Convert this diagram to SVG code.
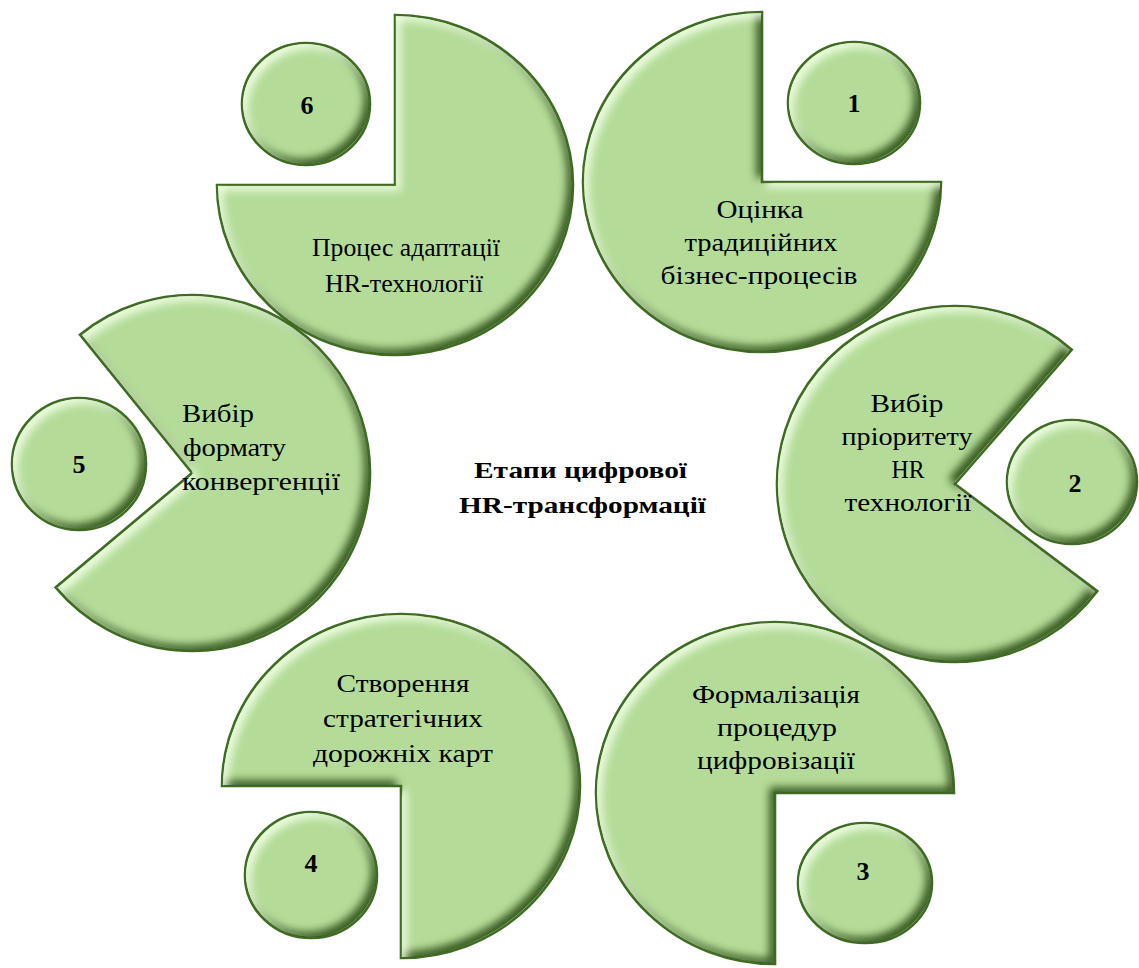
<svg xmlns="http://www.w3.org/2000/svg" width="1139" height="968" viewBox="0 0 1139 968">
  <defs>
    <!-- soft bevel: light rim on upper-left edges, dark rim on lower-right edges -->
    <filter id="bevel" x="-5%" y="-5%" width="110%" height="110%" color-interpolation-filters="sRGB">
      <feMorphology in="SourceAlpha" operator="erode" radius="1.5" result="inner"/>
      <feGaussianBlur in="inner" stdDeviation="4.5" result="blur"/>
      <feOffset in="blur" dx="5" dy="5" result="offDown"/>
      <feComposite in="inner" in2="offDown" operator="arithmetic" k2="1" k3="-1" result="hiMask"/>
      <feFlood flood-color="#f2ffe6" flood-opacity="0.9"/>
      <feComposite in2="hiMask" operator="in" result="hi"/>
      <feOffset in="blur" dx="-5" dy="-5" result="offUp"/>
      <feComposite in="inner" in2="offUp" operator="arithmetic" k2="1" k3="-1" result="shMask"/>
      <feFlood flood-color="#284a12" flood-opacity="0.9"/>
      <feComposite in2="shMask" operator="in" result="sh"/>
      <feMerge>
        <feMergeNode in="SourceGraphic"/>
        <feMergeNode in="sh"/>
        <feMergeNode in="hi"/>
      </feMerge>
    </filter>
  </defs>
  <style>
    .shape { fill: #b4dc98; stroke: #3f6b24; stroke-width: 2.6; filter: url(#bevel); }
    .lbl { font-family: "Liberation Serif", "DejaVu Serif", serif; font-size: 26px; fill: #000; text-anchor: middle; }
    .lbl-l { text-anchor: start; }
    .num { font-family: "Liberation Serif", "DejaVu Serif", serif; font-size: 26px; font-weight: bold; fill: #000; text-anchor: middle; }
    .title { font-family: "Liberation Serif", "DejaVu Serif", serif; font-size: 24px; font-weight: bold; fill: #000; text-anchor: start; }
  </style>
  <rect width="1139" height="968" fill="#ffffff"/>

  <g id="stage-1">
    <path class="shape" d="M 762,182 L 762,12 A 179 170 0 1 0 941,182 Z"/>
    <ellipse class="shape" cx="854" cy="103" rx="66" ry="61"/>
    <text class="num" x="854" y="112">1</text>
    <text class="lbl" x="760" y="218" textLength="87" lengthAdjust="spacingAndGlyphs">Оцінка</text>
    <text class="lbl" x="761" y="251" textLength="153" lengthAdjust="spacingAndGlyphs">традиційних</text>
    <text class="lbl" x="759" y="284" textLength="197" lengthAdjust="spacingAndGlyphs">бізнес-процесів</text>
  </g>

  <g id="stage-2">
    <path class="shape" d="M 955,484 L 1071.8,349.7 A 178 178 0 1 0 1097.2,591.1 Z"/>
    <ellipse class="shape" cx="1072" cy="482" rx="65" ry="62"/>
    <text class="num" x="1075" y="492">2</text>
    <text class="lbl" x="907" y="412" textLength="73" lengthAdjust="spacingAndGlyphs">Вибір</text>
    <text class="lbl" x="907" y="445" textLength="131" lengthAdjust="spacingAndGlyphs">пріоритету</text>
    <text class="lbl" x="908" y="478" textLength="33" lengthAdjust="spacingAndGlyphs">HR</text>
    <text class="lbl" x="908" y="511" textLength="127" lengthAdjust="spacingAndGlyphs">технології</text>
  </g>

  <g id="stage-3">
    <path class="shape" d="M 775,793 L 954,793 A 179 171 0 1 0 775,964 Z"/>
    <ellipse class="shape" cx="865" cy="883" rx="67" ry="60"/>
    <text class="num" x="863" y="880">3</text>
    <text class="lbl" x="776" y="703" textLength="168" lengthAdjust="spacingAndGlyphs">Формалізація</text>
    <text class="lbl" x="777" y="736" textLength="120" lengthAdjust="spacingAndGlyphs">процедур</text>
    <text class="lbl" x="776" y="769" textLength="158" lengthAdjust="spacingAndGlyphs">цифровізації</text>
  </g>

  <g id="stage-4">
    <path class="shape" d="M 401,786 L 401,958 A 179 172 0 1 0 222,786 Z"/>
    <ellipse class="shape" cx="311" cy="875" rx="66" ry="63"/>
    <text class="num" x="311" y="872">4</text>
    <text class="lbl" x="403" y="692" textLength="133" lengthAdjust="spacingAndGlyphs">Створення</text>
    <text class="lbl" x="403" y="727" textLength="160" lengthAdjust="spacingAndGlyphs">стратегічних</text>
    <text class="lbl" x="403" y="762" textLength="180" lengthAdjust="spacingAndGlyphs">дорожніх карт</text>
  </g>

  <g id="stage-5">
    <path class="shape" d="M 192,473 L 55.6,587.4 A 178 178 0 1 0 80,334.7 Z"/>
    <ellipse class="shape" cx="79" cy="464" rx="67" ry="66"/>
    <text class="num" x="79" y="473">5</text>
    <text class="lbl lbl-l" x="182" y="422" textLength="72" lengthAdjust="spacingAndGlyphs">Вибір</text>
    <text class="lbl lbl-l" x="183" y="456" textLength="103" lengthAdjust="spacingAndGlyphs">формату</text>
    <text class="lbl lbl-l" x="182" y="490" textLength="158" lengthAdjust="spacingAndGlyphs">конвергенції</text>
  </g>

  <g id="stage-6">
    <path class="shape" d="M 395,185 L 217,185 A 178 170 0 1 0 395,15 Z"/>
    <ellipse class="shape" cx="306" cy="104" rx="64" ry="61"/>
    <text class="num" x="307" y="114">6</text>
    <text class="lbl" x="406" y="256" textLength="188" lengthAdjust="spacingAndGlyphs">Процес адаптації</text>
    <text class="lbl" x="404" y="292" textLength="158" lengthAdjust="spacingAndGlyphs">HR-технології</text>
  </g>

  <g id="title">
    <text class="title" x="474" y="478" textLength="213" lengthAdjust="spacingAndGlyphs">Етапи цифрової</text>
    <text class="title" x="459" y="513" textLength="247" lengthAdjust="spacingAndGlyphs">HR-трансформації</text>
  </g>
</svg>
